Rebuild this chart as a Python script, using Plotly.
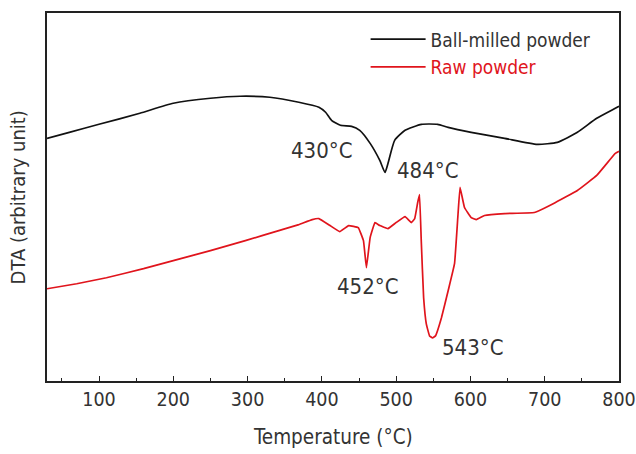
import plotly.graph_objects as go

# Temperature (°C) and DTA (arbitrary unit)
ball_T = [30, 60, 100, 155, 200, 250, 290, 330, 369, 396, 405, 413, 425, 440, 451, 465, 478, 485, 489,
          498, 512, 534, 556, 570, 601, 646, 690, 717, 744, 770, 795, 800]
ball_dta = [242, 248, 256, 267, 277, 282, 284, 283, 278, 273, 268, 260, 255, 254, 250, 237, 220, 208, 217,
            240, 250, 256, 256, 253, 248, 242, 236, 238, 248, 262, 272, 274]

raw_T = [30, 70, 110, 160, 200, 250, 297, 342, 369, 387, 396, 411, 424, 436, 449, 456, 460, 465, 471.5,
         478, 489, 500, 512, 520.5, 525, 529, 531.5, 533.8, 537, 540.6, 545, 549, 553, 561, 570, 578.6,
         583, 586, 592, 601, 608, 619, 646, 686, 712, 744, 770, 795, 800]
raw_dta = [92, 97, 103, 112, 120, 130, 140, 150, 156, 161, 162, 155, 149, 155, 153, 140, 113, 143, 158,
           155, 152, 158, 164, 158, 162, 178, 186, 140, 83, 57, 45, 43, 45, 63, 90, 117,
           163, 193, 173, 163, 161, 165, 167, 168, 177, 190, 205, 227, 229]

labels = ["430°C", "484°C", "452°C", "543°C"]
label_T = [400, 543, 462, 604]
label_y = [230, 210, 94, 33]

FONT = "DejaVu Sans Condensed, Roboto, sans-serif"
TXT = "#333333"
RED = "#e0141c"

fig = go.Figure()
fig.add_trace(go.Scatter(x=ball_T, y=ball_dta, mode="lines", name="Ball-milled powder",
                         line=dict(color="#111111", width=1.7, shape="spline", smoothing=0.5)))
fig.add_trace(go.Scatter(x=raw_T, y=raw_dta, mode="lines",
                         name="<span style='color:%s'>Raw powder</span>" % RED,
                         line=dict(color=RED, width=1.7, shape="spline", smoothing=0.25)))

for t, x, y in zip(labels, label_T, label_y):
    fig.add_annotation(x=x, y=y, text=t, showarrow=False, font=dict(size=22, color=TXT, family=FONT))

# axis titles as paper annotations
fig.add_annotation(xref="paper", yref="paper", x=-0.05, y=0.5, text="DTA (arbitrary unit)",
                   textangle=-90, showarrow=False, xanchor="center", yanchor="middle",
                   font=dict(size=20, color=TXT, family=FONT))
fig.add_annotation(xref="paper", yref="paper", x=0.5, y=-0.152, text="Temperature (°C)",
                   showarrow=False, xanchor="center", yanchor="middle",
                   font=dict(size=20.5, color=TXT, family=FONT))

fig.update_layout(
    width=636, height=454,
    margin=dict(l=47, r=17, t=13, b=73, autoexpand=False),
    paper_bgcolor="white", plot_bgcolor="white",
    font=dict(family=FONT, color=TXT),
    showlegend=True,
    legend=dict(x=0.557, y=0.98, xanchor="left", yanchor="top", bgcolor="rgba(0,0,0,0)",
                font=dict(size=19, color=TXT, family=FONT), tracegroupgap=0, itemwidth=55),
    xaxis=dict(range=[30, 800], tickvals=[100, 200, 300, 400, 500, 600, 700, 800], automargin=False,
               ticklabeloverflow="allow",
               ticks="inside", ticklen=5, tickwidth=1.2, tickcolor="#222",
               minor=dict(ticks="inside", ticklen=3, tickvals=[50, 150, 250, 350, 450, 550, 650, 750],
                          tickcolor="#222"),
               showline=True, linecolor="#222", linewidth=1.5, mirror=True, showgrid=False, zeroline=False,
               tickfont=dict(size=19.5, color=TXT, family=FONT)),
    yaxis=dict(range=[0, 367], showticklabels=False, ticks="", automargin=False,
               showline=True, linecolor="#222", linewidth=1.5, mirror=True, showgrid=False, zeroline=False),
)

fig.write_html("out.html")
